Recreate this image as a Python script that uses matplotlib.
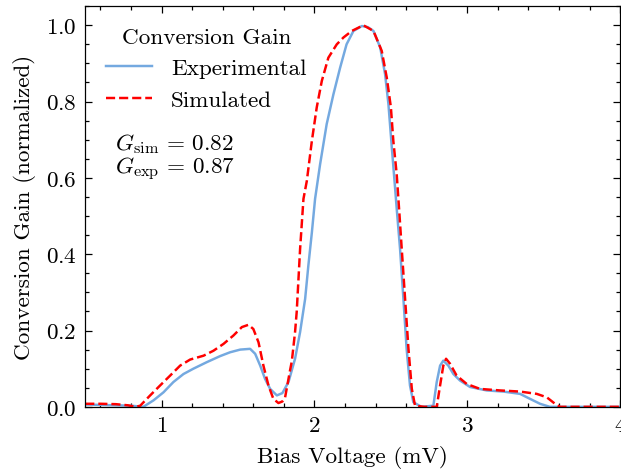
import matplotlib
matplotlib.use("Agg")
import matplotlib.pyplot as plt

# bias voltage (mV) and normalized conversion gain
v_exp = [0.50, 0.60, 0.70, 0.80, 0.88, 0.947, 1.012, 1.077, 1.143, 1.208, 1.295, 1.383,
         1.448, 1.514, 1.579, 1.612, 1.645, 1.677, 1.71, 1.754, 1.79, 1.83, 1.873, 1.906,
         1.939, 1.96, 1.983, 2.004, 2.037, 2.08, 2.124, 2.168, 2.21, 2.255, 2.31, 2.35,
         2.386, 2.43, 2.462, 2.484, 2.506, 2.527, 2.538, 2.56, 2.582, 2.603, 2.625, 2.647,
         2.70, 2.778, 2.80, 2.822, 2.843, 2.876, 2.909, 2.952, 3.018, 3.127, 3.236, 3.345,
         3.41, 3.476, 3.54, 3.70, 4.00]
g_exp = [0.006, 0.005, 0.004, 0.003, 0.000, 0.017, 0.038, 0.065, 0.086, 0.100, 0.117, 0.133,
         0.143, 0.150, 0.152, 0.139, 0.108, 0.073, 0.047, 0.030, 0.036, 0.065, 0.126, 0.196,
         0.283, 0.370, 0.457, 0.545, 0.636, 0.741, 0.819, 0.889, 0.950, 0.985, 0.998, 0.995,
         0.985, 0.942, 0.872, 0.793, 0.680, 0.576, 0.520, 0.414, 0.283, 0.152, 0.056, 0.012,
         0.000, 0.003, 0.065, 0.108, 0.121, 0.108, 0.086, 0.069, 0.052, 0.043, 0.040, 0.034,
         0.021, 0.008, 0.000, 0.000, 0.000]

v_sim = [0.50, 0.60, 0.70, 0.78, 0.83, 0.86, 0.925, 0.99, 1.056, 1.121, 1.187, 1.274,
         1.339, 1.405, 1.47, 1.525, 1.568, 1.60, 1.634, 1.666, 1.699, 1.731, 1.764, 1.79,
         1.808, 1.84, 1.852, 1.873, 1.884, 1.906, 1.928, 1.95, 1.983, 2.015, 2.048, 2.091,
         2.146, 2.19, 2.244, 2.32, 2.386, 2.44, 2.473, 2.50, 2.516, 2.538, 2.556, 2.571,
         2.593, 2.615, 2.637, 2.658, 2.72, 2.80, 2.822, 2.843, 2.861, 2.887, 2.93, 2.996,
         3.083, 3.214, 3.345, 3.454, 3.52, 3.574, 3.607, 3.80, 4.00]
g_sim = [0.008, 0.008, 0.007, 0.004, 0.000, 0.003, 0.030, 0.056, 0.082, 0.108, 0.124, 0.134,
         0.147, 0.165, 0.187, 0.209, 0.215, 0.204, 0.169, 0.108, 0.056, 0.021, 0.010, 0.014,
         0.025, 0.095, 0.120, 0.196, 0.250, 0.414, 0.545, 0.592, 0.697, 0.785, 0.854, 0.915,
         0.950, 0.968, 0.985, 1.000, 0.985, 0.933, 0.863, 0.785, 0.697, 0.610, 0.505, 0.414,
         0.283, 0.152, 0.047, 0.003, 0.000, 0.000, 0.056, 0.108, 0.126, 0.113, 0.082, 0.060,
         0.047, 0.043, 0.040, 0.034, 0.025, 0.008, 0.000, 0.000, 0.000]

gain_sim = 0.82
gain_exp = 0.87

plt.rcParams.update({
    "font.family": "serif",
    "font.serif": ["cmr10"],
    "mathtext.fontset": "cm",
    "axes.formatter.use_mathtext": True,
    "font.size": 9.4,
    "axes.linewidth": 0.5,
    "xtick.direction": "in",
    "ytick.direction": "in",
    "xtick.top": True,
    "ytick.right": True,
    "xtick.major.size": 3,
    "ytick.major.size": 3,
    "xtick.minor.size": 1.5,
    "ytick.minor.size": 1.5,
    "xtick.major.width": 0.5,
    "ytick.major.width": 0.5,
    "xtick.minor.width": 0.5,
    "ytick.minor.width": 0.5,
    "xtick.minor.visible": True,
    "ytick.minor.visible": True,
})

fig, ax = plt.subplots(figsize=(3.5, 2.684), dpi=177.714)
fig.subplots_adjust(left=0.137, right=0.997, top=0.985, bottom=0.145)

ax.plot(v_exp, g_exp, color="#74a9e0", lw=1.0, label="Experimental")
ax.plot(v_sim, g_sim, color="red", lw=1.0, ls="--", label="Simulated")

ax.set_xlim(0.5, 4)
ax.set_ylim(0, 1.05)
ax.set_xticks([1, 2, 3, 4])
ax.set_xlabel("Bias Voltage (mV)")
ax.set_ylabel("Conversion Gain (normalized)")

ax.legend(title="Conversion Gain", loc="upper left", frameon=False)
ax.text(0.056, 0.625,
        rf"$G_{{\rm sim}} \,=\, {gain_sim:.2f}$" "\n" rf"$G_{{\rm exp}} \,=\, {gain_exp:.2f}$",
        transform=ax.transAxes, va="center", ha="left", linespacing=1.0)

fig.savefig("out.png", dpi=177.714)
